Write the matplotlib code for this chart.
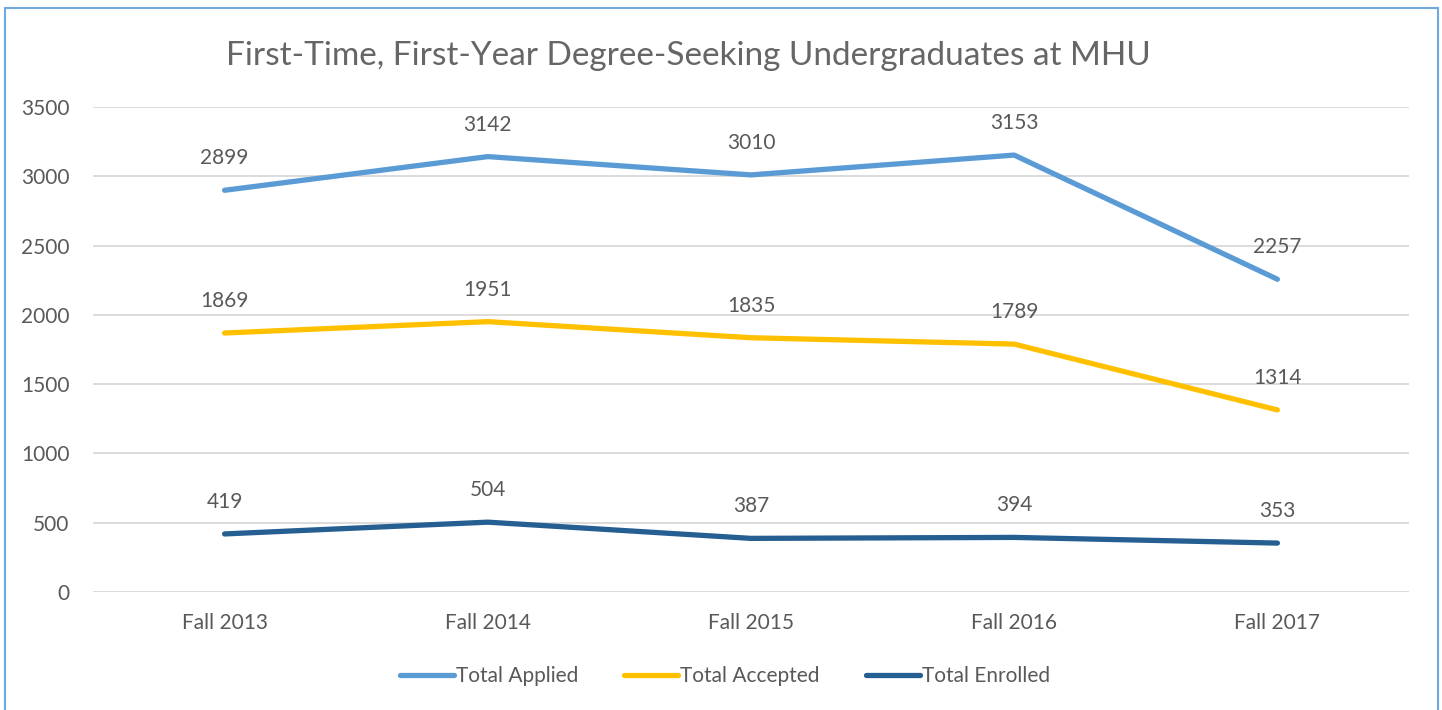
import matplotlib.pyplot as plt
from matplotlib.patches import Rectangle

# Datos
categorias = ["Fall 2013", "Fall 2014", "Fall 2015", "Fall 2016", "Fall 2017"]
total_applied = [2899, 3142, 3010, 3153, 2257]
total_accepted = [1869, 1951, 1835, 1789, 1314]
total_enrolled = [419, 504, 387, 394, 353]

series = [
    ("Total Applied", total_applied, "#5B9BD5"),
    ("Total Accepted", total_accepted, "#FFC000"),
    ("Total Enrolled", total_enrolled, "#255E91"),
]

gris = "#595959"
plt.rcParams['font.family'] = ['Lato', 'DejaVu Sans']

fig = plt.figure(figsize=(14.42, 7.10), dpi=100)
ax = fig.add_axes([93 / 1442, 1 - 592 / 710, (1409 - 93) / 1442, (592 - 107) / 710])

x = list(range(len(categorias)))
for nombre, valores, color in series:
    ax.plot(x, valores, color=color, lw=3.8, solid_capstyle='round', label=nombre)
    for xi, v in zip(x, valores):
        ax.annotate(str(v), (xi, v), xytext=(0, 23), textcoords='offset points',
                    ha='center', va='center', fontsize=15, color=gris)

ax.set_xlim(-0.5, 4.5)
ax.set_ylim(0, 3500)
ax.set_yticks(range(0, 3501, 500))
ax.set_xticks(x)
ax.set_xticklabels(categorias)
ax.grid(True, axis='y', color='#D9D9D9', lw=1.3)
ax.set_axisbelow(True)
for s in ax.spines.values():
    s.set_visible(False)
ax.tick_params(length=0, labelsize=15, labelcolor=gris)
ax.tick_params(axis='x', pad=15)
ax.tick_params(axis='y', pad=17)

fig.text(688 / 1442, 1 - 56 / 710, "First-Time, First-Year Degree-Seeking Undergraduates at MHU",
         ha='center', va='center', fontsize=24, color='#666666')

leg = fig.legend(loc='center', bbox_to_anchor=(725 / 1442, 1 - 676 / 710), ncol=3,
                 frameon=False, fontsize=15, handlelength=2.6, handletextpad=0.1,
                 columnspacing=2.2)
for t in leg.get_texts():
    t.set_color(gris)

# Borde del gráfico
fig.patches.append(Rectangle((5 / 1442, -0.01), (1438 - 5) / 1442, 1 - 8 / 710 + 0.01,
                             transform=fig.transFigure, fill=False,
                             edgecolor='#6FA8DC', lw=1.5))

fig.savefig("out.png", dpi=100)
